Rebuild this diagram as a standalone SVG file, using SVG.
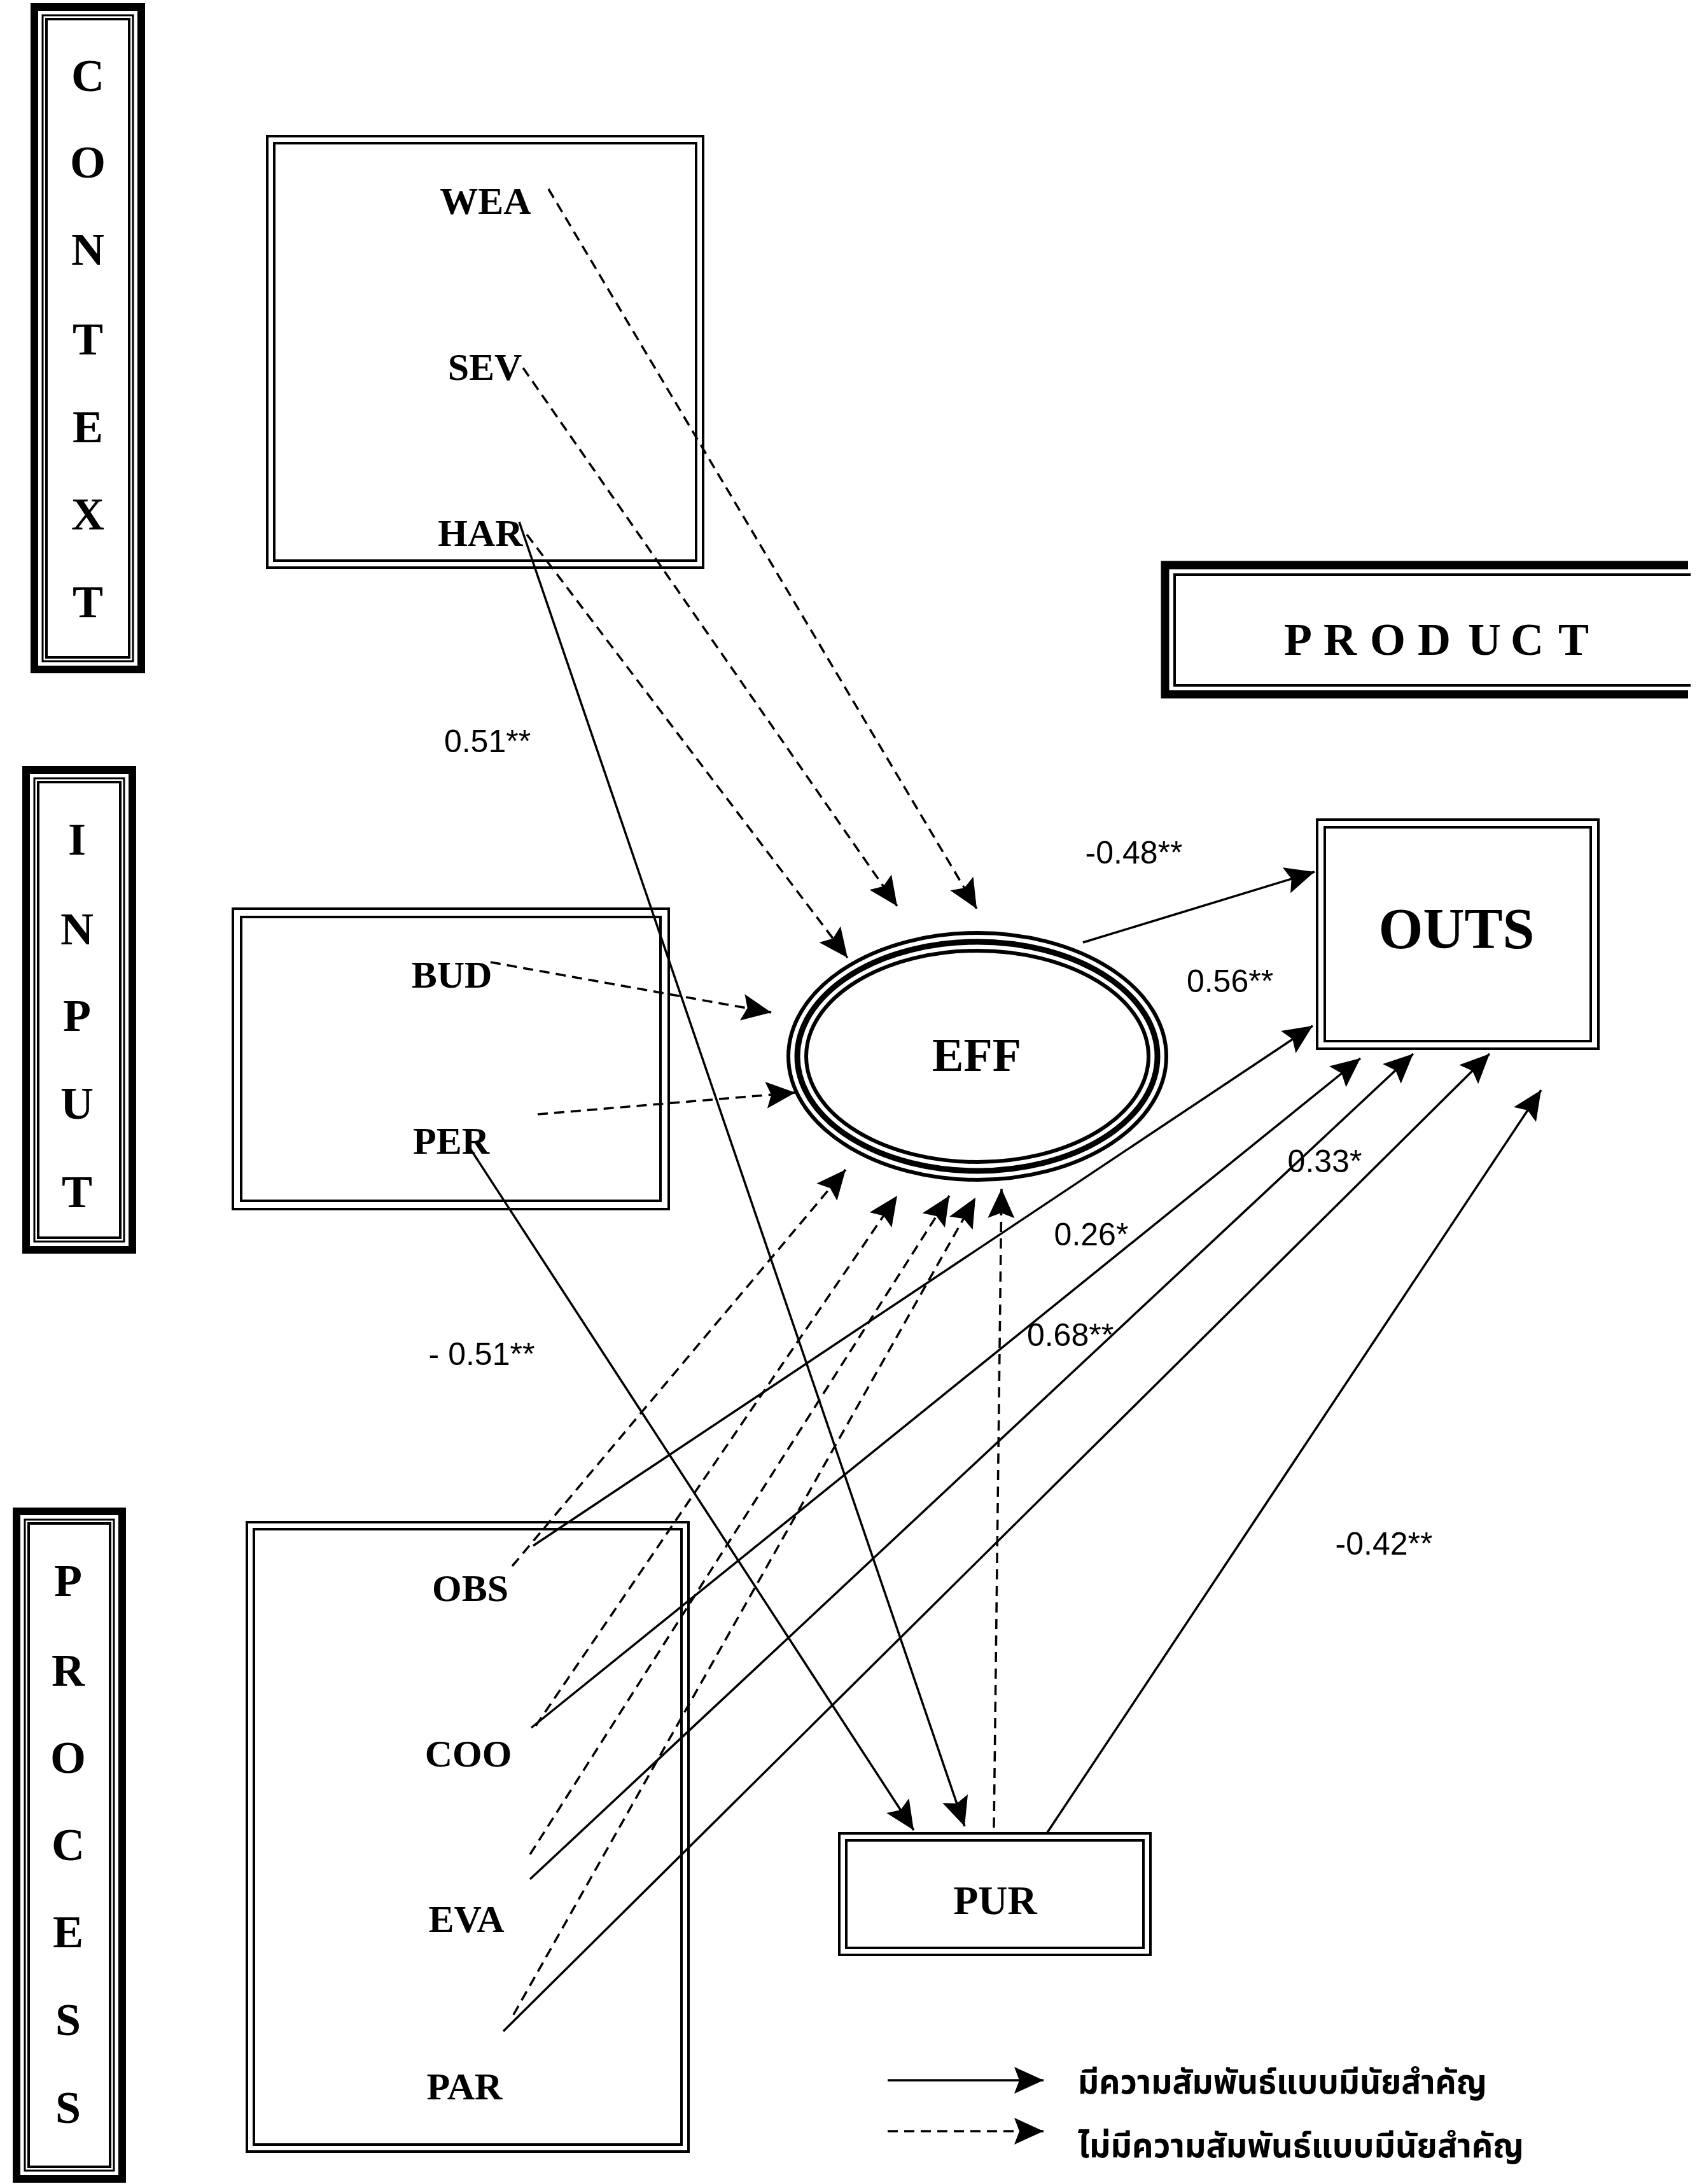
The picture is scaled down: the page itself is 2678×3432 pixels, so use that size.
<svg xmlns="http://www.w3.org/2000/svg" width="2678" height="3432" viewBox="0 0 2678 3432">
<style>
.bg{fill:#fff}
.tk{fill:none;stroke:#000;stroke-width:12}
.tn{fill:none;stroke:#000;stroke-width:3}
.ti{fill:none;stroke:#000;stroke-width:4}
.side{font-family:"Liberation Serif","Times New Roman",serif;font-weight:bold;font-size:72px;text-anchor:middle;fill:#000}
.lbl{font-family:"Liberation Serif","Times New Roman",serif;font-weight:bold;font-size:60px;text-anchor:middle;fill:#000}
.num{font-family:"Liberation Sans",Arial,sans-serif;font-size:50px;text-anchor:middle;fill:#000}
.s{fill:none;stroke:#000;stroke-width:3.5;marker-end:url(#ah)}
.d{fill:none;stroke:#000;stroke-width:3.5;stroke-dasharray:16 10;marker-end:url(#ah)}
.thai{font-family:"Noto Sans Thai","Noto Sans","DejaVu Sans",sans-serif;font-weight:bold;font-size:54px;fill:#000}
</style>
<defs>
<marker id="ah" markerUnits="userSpaceOnUse" markerWidth="48" markerHeight="44" refX="46" refY="21" orient="auto">
<path d="M0,0 L46,21 L0,42 L8,21 Z" fill="#000"/>
</marker>
</defs>
<rect class="bg" x="0" y="0" width="2678" height="3432"/>

<g id="context">
<rect class="tk" x="54" y="11" width="168" height="1041"/>
<rect class="tn" x="67" y="24" width="142" height="1015"/>
<rect class="ti" x="73" y="30" width="130" height="1003"/>
<text class="side" x="138" y="143">C</text>
<text class="side" x="138" y="279">O</text>
<text class="side" x="138" y="416">N</text>
<text class="side" x="138" y="557">T</text>
<text class="side" x="138" y="695">E</text>
<text class="side" x="138" y="832">X</text>
<text class="side" x="138" y="970">T</text>
</g>

<g id="input">
<rect class="tk" x="41" y="1210" width="167" height="754"/>
<rect class="tn" x="54" y="1223" width="141" height="728"/>
<rect class="ti" x="60" y="1229" width="129" height="716"/>
<text class="side" x="121" y="1343">I</text>
<text class="side" x="121" y="1484">N</text>
<text class="side" x="121" y="1620">P</text>
<text class="side" x="121" y="1758">U</text>
<text class="side" x="121" y="1897">T</text>
</g>

<g id="process">
<rect class="tk" x="26" y="2375" width="166" height="1049"/>
<rect class="tn" x="39" y="2388" width="140" height="1023"/>
<rect class="ti" x="45" y="2394" width="128" height="1011"/>
<text class="side" x="107" y="2508">P</text>
<text class="side" x="107" y="2649">R</text>
<text class="side" x="107" y="2786">O</text>
<text class="side" x="107" y="2923">C</text>
<text class="side" x="107" y="3060">E</text>
<text class="side" x="107" y="3198">S</text>
<text class="side" x="107" y="3336">S</text>
</g>

<g id="product">
<path d="M2653,888 H1831 V1091 H2653" fill="none" stroke="#000" stroke-width="13"/>
<path d="M2657,903 H1846 V1077 H2657" class="ti"/>
<text class="side" x="2018 2080 2153 2228 2307 2374 2449" y="1029" style="text-anchor:start">PRODUCT</text>
</g>

<g id="context-vars">
<rect class="ti" x="420" y="214" width="685" height="678"/>
<rect class="ti" x="431" y="225" width="663" height="656"/>
<text class="lbl" x="763" y="336">WEA</text>
<text class="lbl" x="762" y="597">SEV</text>
<text class="lbl" x="755" y="858">HAR</text>
</g>

<g id="input-vars">
<rect class="ti" x="366" y="1428" width="685" height="472"/>
<rect class="ti" x="379" y="1441" width="659" height="446"/>
<text class="lbl" x="710" y="1552">BUD</text>
<text class="lbl" x="709" y="1813">PER</text>
</g>

<g id="process-vars">
<rect class="ti" x="388" y="2392" width="694" height="989"/>
<rect class="ti" x="399" y="2403" width="672" height="967"/>
<text class="lbl" x="739" y="2516">OBS</text>
<text class="lbl" x="736" y="2776">COO</text>
<text class="lbl" x="733" y="3036">EVA</text>
<text class="lbl" x="730" y="3299">PAR</text>
</g>

<g id="eff">
<ellipse cx="1536" cy="1660" rx="297" ry="194" fill="#fff" stroke="#000" stroke-width="6"/>
<ellipse cx="1536" cy="1660" rx="283" ry="180" fill="none" stroke="#000" stroke-width="9"/>
<ellipse cx="1536" cy="1660" rx="269" ry="166" fill="none" stroke="#000" stroke-width="6"/>
<text class="lbl" x="1535" y="1683" style="font-size:74px">EFF</text>
</g>

<g id="outs">
<rect class="ti" x="2070" y="1288" width="442" height="360"/>
<rect class="ti" x="2082" y="1300" width="418" height="336"/>
<text class="lbl" x="2289" y="1490" style="font-size:90px">OUTS</text>
</g>

<g id="pur">
<rect class="ti" x="1319" y="2881" width="489" height="191"/>
<rect class="ti" x="1330" y="2892" width="467" height="169"/>
<text class="lbl" x="1564" y="3008" style="font-size:64px">PUR</text>
</g>

<g id="connectors">
<line class="d" x1="862" y1="297" x2="1535" y2="1428"/>
<line class="d" x1="822" y1="578" x2="1410" y2="1424"/>
<line class="d" x1="828" y1="840" x2="1332" y2="1505"/>
<line class="d" x1="771" y1="1512" x2="1212" y2="1591"/>
<line class="d" x1="845" y1="1751" x2="1250" y2="1717"/>
<line class="d" x1="805" y1="2461" x2="1329" y2="1838"/>
<line class="d" x1="842" y1="2712" x2="1410" y2="1879"/>
<line class="d" x1="833" y1="2914" x2="1492" y2="1879"/>
<line class="d" x1="807" y1="3166" x2="1533" y2="1882"/>
<line class="d" x1="1562" y1="2872" x2="1574" y2="1868"/>
<line class="s" x1="816" y1="820" x2="1516" y2="2870"/>
<line class="s" x1="739" y1="1805" x2="1436" y2="2876"/>
<line class="s" x1="1702" y1="1481" x2="2066" y2="1370"/>
<line class="s" x1="838" y1="2429" x2="2063" y2="1612"/>
<line class="s" x1="835" y1="2715" x2="2138" y2="1663"/>
<line class="s" x1="833" y1="2953" x2="2221" y2="1656"/>
<line class="s" x1="791" y1="3192" x2="2341" y2="1656"/>
<line class="s" x1="1645" y1="2881" x2="2422" y2="1713"/>
</g>

<g id="coefficients">
<text class="num" x="766" y="1182">0.51**</text>
<text class="num" x="1782" y="1357">-0.48**</text>
<text class="num" x="1933" y="1559">0.56**</text>
<text class="num" x="1715" y="1957">0.26*</text>
<text class="num" x="2082" y="1842">0.33*</text>
<text class="num" x="1682" y="2115">0.68**</text>
<text class="num" x="757" y="2145">- 0.51**</text>
<text class="num" x="2175" y="2443">-0.42**</text>
</g>

<g id="legend">
<line class="s" x1="1395" y1="3269" x2="1640" y2="3269"/>
<line class="d" x1="1395" y1="3349" x2="1640" y2="3349"/>
<text class="thai" x="1694" y="3290" textLength="643" lengthAdjust="spacingAndGlyphs">มีความสัมพันธ์แบบมีนัยสำคัญ</text>
<text class="thai" x="1694" y="3390" textLength="701" lengthAdjust="spacingAndGlyphs">ไม่มีความสัมพันธ์แบบมีนัยสำคัญ</text>
</g>
</svg>
